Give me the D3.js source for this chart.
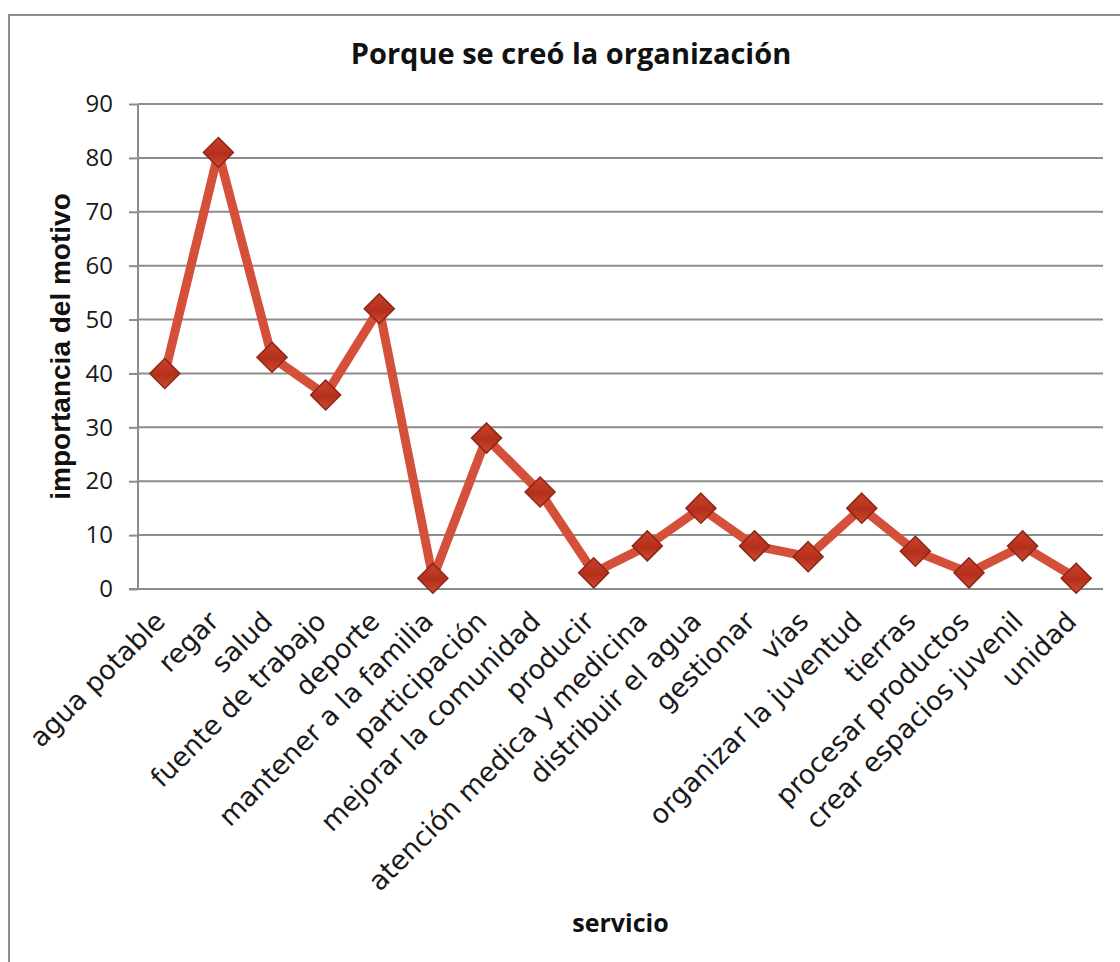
<!DOCTYPE html>
<html>
<head>
<meta charset="utf-8">
<script src="https://cdn.jsdelivr.net/npm/d3@7"></script>
<style>
  html, body { margin: 0; padding: 0; background: #fff; }
  svg { display: block; }
</style>
</head>
<body>
<svg id="chart" width="1120" height="962"></svg>
<script>
// Motivos por los que se creó la organización
const categories = [
  "agua potable", "regar", "salud", "fuente de trabajo", "deporte",
  "mantener a la familia", "participación", "mejorar la comunidad", "producir",
  "atención medica y medicina", "distribuir el agua", "gestionar", "vías",
  "organizar la juventud", "tierras", "procesar productos",
  "crear espacios juvenil", "unidad"
];
const values = [40, 81, 43, 36, 52, 2, 28, 18, 3, 8, 15, 8, 6, 15, 7, 3, 8, 2];
const yTicks = [0, 10, 20, 30, 40, 50, 60, 70, 80, 90];
const title = "Porque se creó la organización";
const xTitle = "servicio";
const yTitle = "importancia del motivo";

const svg = d3.select("#chart");
const margin = { left: 138, right: 1103, top: 104, bottom: 589 };

// chart frame
svg.append("rect")
  .attr("x", 9).attr("y", 15)
  .attr("width", 1130).attr("height", 980)
  .attr("fill", "#fff").attr("stroke", "#8e8e8e").attr("stroke-width", 2);

const x = d3.scaleBand().domain(categories)
  .range([margin.left, margin.right]).padding(0);
const y = d3.scaleLinear().domain([0, 90])
  .range([margin.bottom, margin.top]);

// horizontal gridlines
svg.append("g").selectAll("line")
  .data(yTicks.filter(t => t > 0))
  .join("line")
  .attr("x1", margin.left).attr("x2", margin.right)
  .attr("y1", d => y(d)).attr("y2", d => y(d))
  .attr("stroke", "#8c8c8c").attr("stroke-width", 2);

// y axis
const yAxis = svg.append("g")
  .attr("transform", `translate(${margin.left},0)`)
  .call(d3.axisLeft(y).tickValues(yTicks).tickSize(9).tickPadding(16));
yAxis.select(".domain").attr("stroke", "#8c8c8c").attr("stroke-width", 2)
  .attr("d", `M0,${margin.bottom}V${margin.top}`);
yAxis.selectAll(".tick line").attr("stroke", "#8c8c8c").attr("stroke-width", 2);
yAxis.selectAll(".tick text")
  .attr("font-family", "'Open Sans', 'Noto Sans', sans-serif")
  .attr("font-size", 24).attr("fill", "#1a1a1a");

// x axis
const xAxis = svg.append("g")
  .attr("transform", `translate(0,${margin.bottom})`)
  .call(d3.axisBottom(x).tickSize(0).tickPadding(0));
xAxis.select(".domain").attr("stroke", "#8c8c8c").attr("stroke-width", 2)
  .attr("d", `M${margin.left - 9},0H${margin.right}`);
xAxis.selectAll(".tick text")
  .attr("font-family", "'DejaVu Sans', sans-serif")
  .attr("font-size", 27).attr("fill", "#1a1a1a")
  .attr("text-anchor", "end")
  .attr("y", 0).attr("dy", 0)
  .attr("transform", "translate(2,34) rotate(-45)");

// series line
const line = d3.line()
  .x((d, i) => x(categories[i]) + x.bandwidth() / 2)
  .y(d => y(d));

svg.append("path")
  .datum(values)
  .attr("d", line)
  .attr("fill", "none")
  .attr("stroke", "#d4503a")
  .attr("stroke-width", 9)
  .attr("stroke-linejoin", "round");

// diamond markers
const defs = svg.append("defs");
const grad = defs.append("linearGradient").attr("id", "mk")
  .attr("x1", 0).attr("y1", 0).attr("x2", 0).attr("y2", 1);
grad.append("stop").attr("offset", "0%").attr("stop-color", "#c9412b");
grad.append("stop").attr("offset", "55%").attr("stop-color", "#b5301c");
grad.append("stop").attr("offset", "100%").attr("stop-color", "#cf4a30");

const s = 15;
svg.append("g").selectAll("path")
  .data(values)
  .join("path")
  .attr("transform", (d, i) =>
    `translate(${x(categories[i]) + x.bandwidth() / 2},${y(d)})`)
  .attr("d", `M0,${-s}L${s},0L0,${s}L${-s},0Z`)
  .attr("fill", "url(#mk)")
  .attr("stroke", "#8a2716")
  .attr("stroke-width", 1.5);

// titles
svg.append("text")
  .attr("x", 571).attr("y", 64)
  .attr("text-anchor", "middle")
  .attr("font-family", "'Open Sans', 'Noto Sans', sans-serif")
  .attr("font-weight", "bold").attr("font-size", 29)
  .attr("fill", "#111")
  .text(title);

svg.append("text")
  .attr("transform", `translate(70,${(margin.top + margin.bottom) / 2}) rotate(-90)`)
  .attr("text-anchor", "middle")
  .attr("font-family", "'Liberation Sans', Arial, sans-serif")
  .attr("font-weight", "bold").attr("font-size", 28)
  .attr("fill", "#111")
  .text(yTitle);

svg.append("text")
  .attr("x", (margin.left + margin.right) / 2).attr("y", 932)
  .attr("text-anchor", "middle")
  .attr("font-family", "'Open Sans', 'Noto Sans', sans-serif")
  .attr("font-weight", "bold").attr("font-size", 25)
  .attr("fill", "#111")
  .text(xTitle);
</script>
</body>
</html>
